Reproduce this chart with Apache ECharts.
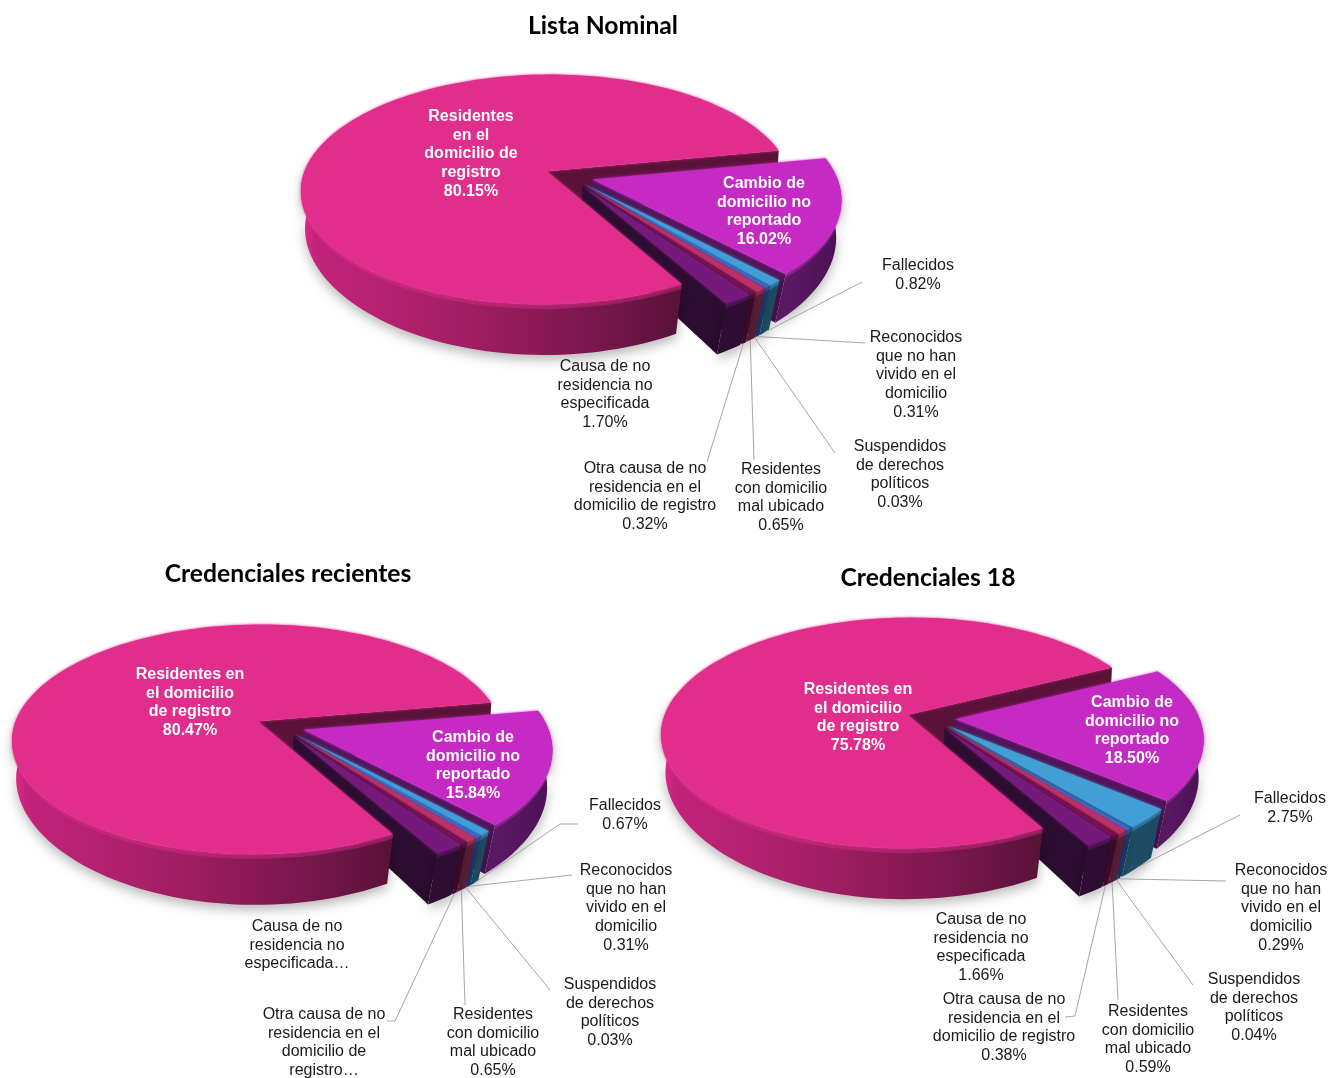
<!DOCTYPE html>
<html><head><meta charset="utf-8">
<style>html,body{margin:0;padding:0;background:#fff}#c{width:1332px;height:1078px}</style>
<script src="https://cdn.jsdelivr.net/npm/echarts@6/dist/echarts.min.js"></script>
</head><body><div id="c"></div>
<script>
// ---- data ----
const chartTitles = ['Lista Nominal', 'Credenciales recientes', 'Credenciales 18'];
const categories = ['Residentes en el domicilio de registro','Cambio de domicilio no reportado','Fallecidos','Reconocidos que no han vivido en el domicilio','Suspendidos de derechos políticos','Residentes con domicilio mal ubicado','Otra causa de no residencia en el domicilio de registro','Causa de no residencia no especificada'];
const listaNominalValues = [80.15, 16.02, 0.82, 0.31, 0.03, 0.65, 0.32, 1.70];
const recientesValues = [80.47, 15.84, 0.67, 0.31, 0.03, 0.65, 0.32, 1.71];
const credenciales18Values = [75.78, 18.50, 2.75, 0.29, 0.04, 0.59, 0.38, 1.66];
const listaNominalText = [
 ['Residentes','en el','domicilio de','registro'],['Cambio de','domicilio no','reportado'],['Fallecidos'],
 ['Reconocidos','que no han','vivido en el','domicilio'],['Suspendidos','de derechos','políticos'],
 ['Residentes','con domicilio','mal ubicado'],['Otra causa de no','residencia en el','domicilio de registro'],
 ['Causa de no','residencia no','especificada']];
const recientesText = [
 ['Residentes en','el domicilio','de registro'],['Cambio de','domicilio no','reportado'],['Fallecidos'],
 ['Reconocidos','que no han','vivido en el','domicilio'],['Suspendidos','de derechos','políticos'],
 ['Residentes','con domicilio','mal ubicado'],['Otra causa de no','residencia en el','domicilio de','registro…'],
 ['Causa de no','residencia no','especificada…']];
const credenciales18Text = [
 ['Residentes en','el domicilio','de registro'],['Cambio de','domicilio no','reportado'],['Fallecidos'],
 ['Reconocidos','que no han','vivido en el','domicilio'],['Suspendidos','de derechos','políticos'],
 ['Residentes','con domicilio','mal ubicado'],['Otra causa de no','residencia en el','domicilio de registro'],
 ['Causa de no','residencia no','especificada']];

// ---- styles and layout ----
const sliceStyles = [
 {top:'#E12D8C', wall:'#5B1239', side:[[0,'#DE2A8A'],[0.04,'#C3237A'],[0.45,'#A01E62'],[0.85,'#6E1547'],[1,'#581238']]},
 {top:'#C52AC4', wall:'#4F1459', side:[[0,'#5E1A68'],[1,'#4A1253']]},
 {top:'#429FD6', wall:'#1C4A61', side:[[0,'#1F5068'],[1,'#1C4A61']]},
 {top:'#3569C8', wall:'#1D3A70', side:[[0,'#1D3A70'],[1,'#1D3A70']]},
 {top:'#7E57C2', wall:'#3A2A60', side:[[0,'#3A2A60'],[1,'#3A2A60']]},
 {top:'#BC3268', wall:'#5A1F38', side:[[0,'#5A1F38'],[1,'#5A1F38']]},
 {top:'#7A0F4E', wall:'#3A0828', side:[[0,'#4A0A30'],[1,'#3A0828']]},
 {top:'#751A7A', wall:'#2C0C30', side:[[0,'#2F0D33'],[1,'#2C0C30']]}
];
const FIRST_ANGLE = 60.5, EXPLODE = 0.1, A = 244, B = 113.5, K = 0.159, H = 43, BEVEL = 4;
const SHRINK_BASE = 0.01, SHRINK_FRONT = 0.05, HIDDEN_SIDE_FROM = 190;
// label: [centre x, first line centre y]; leader: elbow/end points
const layouts = [
 {ox:569, oy:176, lh:18.75, title:[598,9],
  labels:[[471,116.5],[764,183.5],[918,266],[916,337.5],[900,446.5],[781,469.5],[645,468.5],[605,366.5]],
  leaders:[null,null,[[862,282]],[[865,343]],[[835,453]],[[754,460]],[[707,462]],null]},
 {ox:280, oy:726, lh:18.75, title:[283,557],
  labels:[[190,674.5],[473,737.5],[625,805.5],[626,870.5],[610,984.5],[493,1014.5],[324,1014.5],[297,926.5]],
  leaders:[null,null,[[560,824],[578,824]],[[572,875]],[[550,990]],[[465,1005]],[[395,1021],[387,1021]],null]},
 {ox:931, oy:718, lh:18.75, title:[923,561],
  labels:[[858,689.5],[1132,702.5],[1290,798.5],[1281,870.5],[1254,979.5],[1148,1011.5],[1004,999.5],[981,919.5]],
  leaders:[null,null,[[1222,824],[1240,815]],[[1226,881]],[[1193,985]],[[1118,1000]],[[1075,1016],[1065,1017]],null]}
];
const allValues = [listaNominalValues, recientesValues, credenciales18Values];
const allText = [listaNominalText, recientesText, credenciales18Text];
const rad = d => d * Math.PI / 180;

function makeRender(pieIdx) {
  const L = layouts[pieIdx], values = allValues[pieIdx], texts = allText[pieIdx];
  const total = values.reduce((a, b) => a + b, 0);
  const proj = (X, Y, z) => {
    const f = 1 / (1 - K * Y);
    const shrink = (SHRINK_BASE + SHRINK_FRONT * Math.max(0, Y)) * z / H;
    return [L.ox + A * X * f * (1 - shrink), L.oy + (B * Y + z) * f];
  };
  return function (params, api) {
    const i = api.value(0), v = api.value(1);
    let before = 0;
    for (let j = 0; j < i; j++) before += values[j];
    const t1 = FIRST_ANGLE + before / total * 360, t2 = t1 + v / total * 360, mid = (t1 + t2) / 2;
    const dx = EXPLODE * Math.cos(rad(mid)), dy = EXPLODE * Math.sin(rad(mid));
    const at = (t, z) => proj(dx + Math.cos(rad(t)), dy + Math.sin(rad(t)), z);
    const apex = z => proj(dx, dy, z);
    const arc = (a, b, z) => {
      const steps = Math.max(2, Math.ceil((b - a) / 2)), r = [];
      for (let s = 0; s <= steps; s++) r.push(at(a + (b - a) * s / steps, z));
      return r;
    };
    const st = sliceStyles[i];
    const base = i === 0 ? 60 : 10 + i * 4;
    const sideEnd = Math.min(t2, t2 > 360 && t1 > 360 ? t2 : (t1 < HIDDEN_SIDE_FROM ? HIDDEN_SIDE_FROM : t2));
    const kids = [];
    // wall at the end of the slice
    kids.push({type:'polygon', z2: i === 0 ? 1 : base,
      shape:{points:[apex(0), at(t2,0), at(t2,H), apex(H)]}, style:{fill:st.wall}});
    // outer side (only the part that faces the viewer)
    kids.push({type:'polygon', z2: base + 1, shape:{points:arc(t1, sideEnd, 0).concat(arc(t1, sideEnd, H).reverse())},
      style:{fill:{type:'linear',x:0,y:0,x2:1,y2:0,colorStops:st.side.map(c=>({offset:c[0],color:c[1]}))},
             shadowBlur: 12, shadowColor:'rgba(0,0,0,0.28)', shadowOffsetY:5}});
    // soft bevel
    kids.push({type:'polygon', z2: base + 2, shape:{points:arc(t1, sideEnd, 0).concat(arc(t1, sideEnd, BEVEL).reverse())},
      style:{fill:st.top, opacity:0.4}});
    // top face
    kids.push({type:'polygon', z2: base + 3, shape:{points:[apex(0)].concat(arc(t1, t2, 0))},
      style:{fill:st.top, shadowBlur:3, shadowColor:st.top}});
    // leader
    const lead = L.leaders[i];
    if (lead) {
      kids.push({type:'polyline', z2:150, shape:{points:[at(mid, H)].concat(lead)},
        style:{stroke:'#A6A6A6', lineWidth:1, fill:null}});
    }
    // label
    const lines = texts[i].slice();
    if (!/…$/.test(lines[lines.length - 1])) lines.push(v.toFixed(2) + '%');
    const inside = i < 2, lab = L.labels[i];
    lines.forEach((s, n) => kids.push({type:'text', z2:200, style:{
      text:s, x:lab[0], y:lab[1] + n * L.lh, align:'center', verticalAlign:'middle',
      fill: inside ? '#FFFFFF' : '#1A1A1A', fontFamily:'"Liberation Sans", Arial, sans-serif',
      fontSize:16, fontWeight: inside ? 'bold' : 'normal'}}));
    return {type:'group', children:kids};
  };
}

const chart = echarts.init(document.getElementById('c'), null, {renderer:'canvas'});
chart.setOption({
  backgroundColor:'#FFFFFF',
  animation:false,
  title: chartTitles.map((t, i) => ({text:t, left:layouts[i].title[0], top:layouts[i].title[1], textAlign:'center',
    textStyle:{fontFamily:'Lato', fontWeight:'bold', fontSize:24.7, color:'#000000'}})),
  series: allValues.map((vals, p) => ({
    type:'custom', coordinateSystem:'none', silent:true, clip:false,
    renderItem: makeRender(p),
    data: vals.map((v, i) => ({name:categories[i], value:[i, v]}))
  }))
});
</script></body></html>
